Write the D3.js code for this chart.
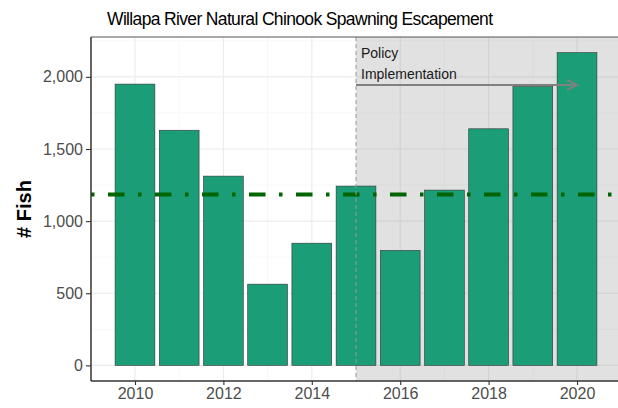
<!DOCTYPE html>
<html>
<head>
<meta charset="utf-8">
<script src="https://cdn.jsdelivr.net/npm/d3@7"></script>
<style>
  body { margin: 0; background: #fff; }
  text { font-family: "Liberation Sans", Arial, sans-serif; }
</style>
</head>
<body>
<div id="chart"></div>
<script>
// data
const years = [2010, 2011, 2012, 2013, 2014, 2015, 2016, 2017, 2018, 2019, 2020];
const fish = [1950, 1630, 1312, 563, 847, 1243, 797, 1215, 1640, 1932, 2168];
const meanLine = 1185;
const policyYear = 2015;
const arrowY = 1944;
const arrowEnd = 2020;
const xTicks = [2010, 2012, 2014, 2016, 2018, 2020];
const yTicks = [0, 500, 1000, 1500, 2000];

const width = 618, height = 408;
const panel = {left: 91, top: 37, right: 621, bottom: 381};

const svg = d3.select('#chart').append('svg')
    .attr('width', width)
    .attr('height', height);

// scales (ggplot style 5% expansion)
const xMin = years[0] - 0.45, xMax = years[years.length - 1] + 0.45;
const xPad = (xMax - xMin) * 0.05;
const x = d3.scaleLinear()
    .domain([xMin - xPad, xMax + xPad])
    .range([panel.left, panel.right]);

const yMax = d3.max(fish);
const y = d3.scaleLinear()
    .domain([-yMax * 0.05, yMax * 1.05])
    .range([panel.bottom, panel.top]);

const bw = x(years[0] + 0.45) - x(years[0] - 0.45);

// panel background
svg.append('rect')
    .attr('x', panel.left).attr('y', panel.top)
    .attr('width', panel.right - panel.left)
    .attr('height', panel.bottom - panel.top)
    .attr('fill', '#fff');

// grid: minor then major
const grid = svg.append('g');
const xMinor = d3.range(2009, 2022, 2);
const yMinor = [250, 750, 1250, 1750, 2250];
grid.selectAll('.xminor').data(xMinor).enter().append('line')
    .attr('x1', d => x(d)).attr('x2', d => x(d))
    .attr('y1', panel.top).attr('y2', panel.bottom)
    .attr('stroke', '#f2f2f2').attr('stroke-width', 0.6);
grid.selectAll('.yminor').data(yMinor).enter().append('line')
    .attr('y1', d => y(d)).attr('y2', d => y(d))
    .attr('x1', panel.left).attr('x2', panel.right)
    .attr('stroke', '#f2f2f2').attr('stroke-width', 0.6);
grid.selectAll('.xmajor').data(xTicks).enter().append('line')
    .attr('x1', d => x(d)).attr('x2', d => x(d))
    .attr('y1', panel.top).attr('y2', panel.bottom)
    .attr('stroke', '#ebebeb').attr('stroke-width', 1.1);
grid.selectAll('.ymajor').data(yTicks).enter().append('line')
    .attr('y1', d => y(d)).attr('y2', d => y(d))
    .attr('x1', panel.left).attr('x2', panel.right)
    .attr('stroke', '#ebebeb').attr('stroke-width', 1.1);

// shaded policy period
svg.append('rect')
    .attr('x', x(policyYear)).attr('y', panel.top)
    .attr('width', panel.right - x(policyYear))
    .attr('height', panel.bottom - panel.top)
    .attr('fill', '#808080')
    .attr('fill-opacity', 0.24);

// bars
svg.selectAll('.bar')
    .data(years)
    .enter().append('rect')
    .attr('class', 'bar')
    .attr('x', d => x(d) - bw / 2)
    .attr('y', (d, i) => y(fish[i]))
    .attr('width', bw)
    .attr('height', (d, i) => y(0) - y(fish[i]))
    .attr('fill', '#1b9e77')
    .attr('stroke', '#333')
    .attr('stroke-width', 0.6);

// mean line
svg.append('line')
    .attr('x1', panel.left).attr('x2', panel.right)
    .attr('y1', y(meanLine)).attr('y2', y(meanLine))
    .attr('stroke', '#006400')
    .attr('stroke-width', 4)
    .attr('stroke-dasharray', '3.5,13.5,16.5,13.5');

// policy line
svg.append('line')
    .attr('x1', x(policyYear)).attr('x2', x(policyYear))
    .attr('y1', panel.top).attr('y2', panel.bottom)
    .attr('stroke', '#999')
    .attr('stroke-width', 1)
    .attr('stroke-dasharray', '4,3');

// arrow
const ax1 = x(policyYear), ax2 = x(arrowEnd), ay = y(arrowY);
svg.append('line')
    .attr('x1', ax1).attr('x2', ax2)
    .attr('y1', ay).attr('y2', ay)
    .attr('stroke', '#808080')
    .attr('stroke-width', 2);
svg.append('path')
    .attr('d', `M${ax2 - 10},${ay - 5}L${ax2},${ay}L${ax2 - 10},${ay + 5}`)
    .attr('fill', 'none')
    .attr('stroke', '#808080')
    .attr('stroke-width', 2);

// annotation text
const note = svg.append('text')
    .attr('x', x(policyYear) + 5)
    .attr('y', 58)
    .attr('font-size', 14)
    .attr('fill', '#1a1a1a');
note.append('tspan').attr('x', x(policyYear) + 5).text('Policy');
note.append('tspan').attr('x', x(policyYear) + 5).attr('dy', 21).text('Implementation');

// panel border + axis lines
svg.append('line')
    .attr('x1', panel.left).attr('x2', panel.right)
    .attr('y1', panel.top).attr('y2', panel.top)
    .attr('stroke', '#555').attr('stroke-width', 1.2);
svg.append('line')
    .attr('x1', panel.left).attr('x2', panel.left)
    .attr('y1', panel.top).attr('y2', panel.bottom)
    .attr('stroke', '#333').attr('stroke-width', 1.5);
svg.append('line')
    .attr('x1', panel.left).attr('x2', panel.right)
    .attr('y1', panel.bottom).attr('y2', panel.bottom)
    .attr('stroke', '#333').attr('stroke-width', 1.5);

// axes
const xAxis = svg.append('g')
    .attr('transform', `translate(0,${panel.bottom})`)
    .call(d3.axisBottom(x).tickValues(xTicks).tickFormat(d3.format('d')).tickSize(4).tickPadding(3));
const yAxis = svg.append('g')
    .attr('transform', `translate(${panel.left},0)`)
    .call(d3.axisLeft(y).tickValues(yTicks).tickFormat(d3.format(',')).tickSize(5).tickPadding(3));
[xAxis, yAxis].forEach(a => {
    a.select('.domain').remove();
    a.selectAll('line').attr('stroke', '#333').attr('stroke-width', 1.1);
    a.selectAll('text')
        .attr('font-family', '"Liberation Sans", Arial, sans-serif')
        .attr('font-size', 16)
        .attr('fill', '#4d4d4d');
});

// title
svg.append('text')
    .attr('x', 300)
    .attr('y', 25)
    .attr('text-anchor', 'middle')
    .attr('font-size', 17.5)
    .attr('textLength', 386)
    .attr('lengthAdjust', 'spacing')
    .attr('fill', '#000')
    .text('Willapa River Natural Chinook Spawning Escapement');

// y label
svg.append('text')
    .attr('transform', `translate(31,${(panel.top + panel.bottom) / 2}) rotate(-90)`)
    .attr('text-anchor', 'middle')
    .attr('font-size', 20)
    .attr('font-weight', 'bold')
    .attr('fill', '#000')
    .text('# Fish');
</script>
</body>
</html>
